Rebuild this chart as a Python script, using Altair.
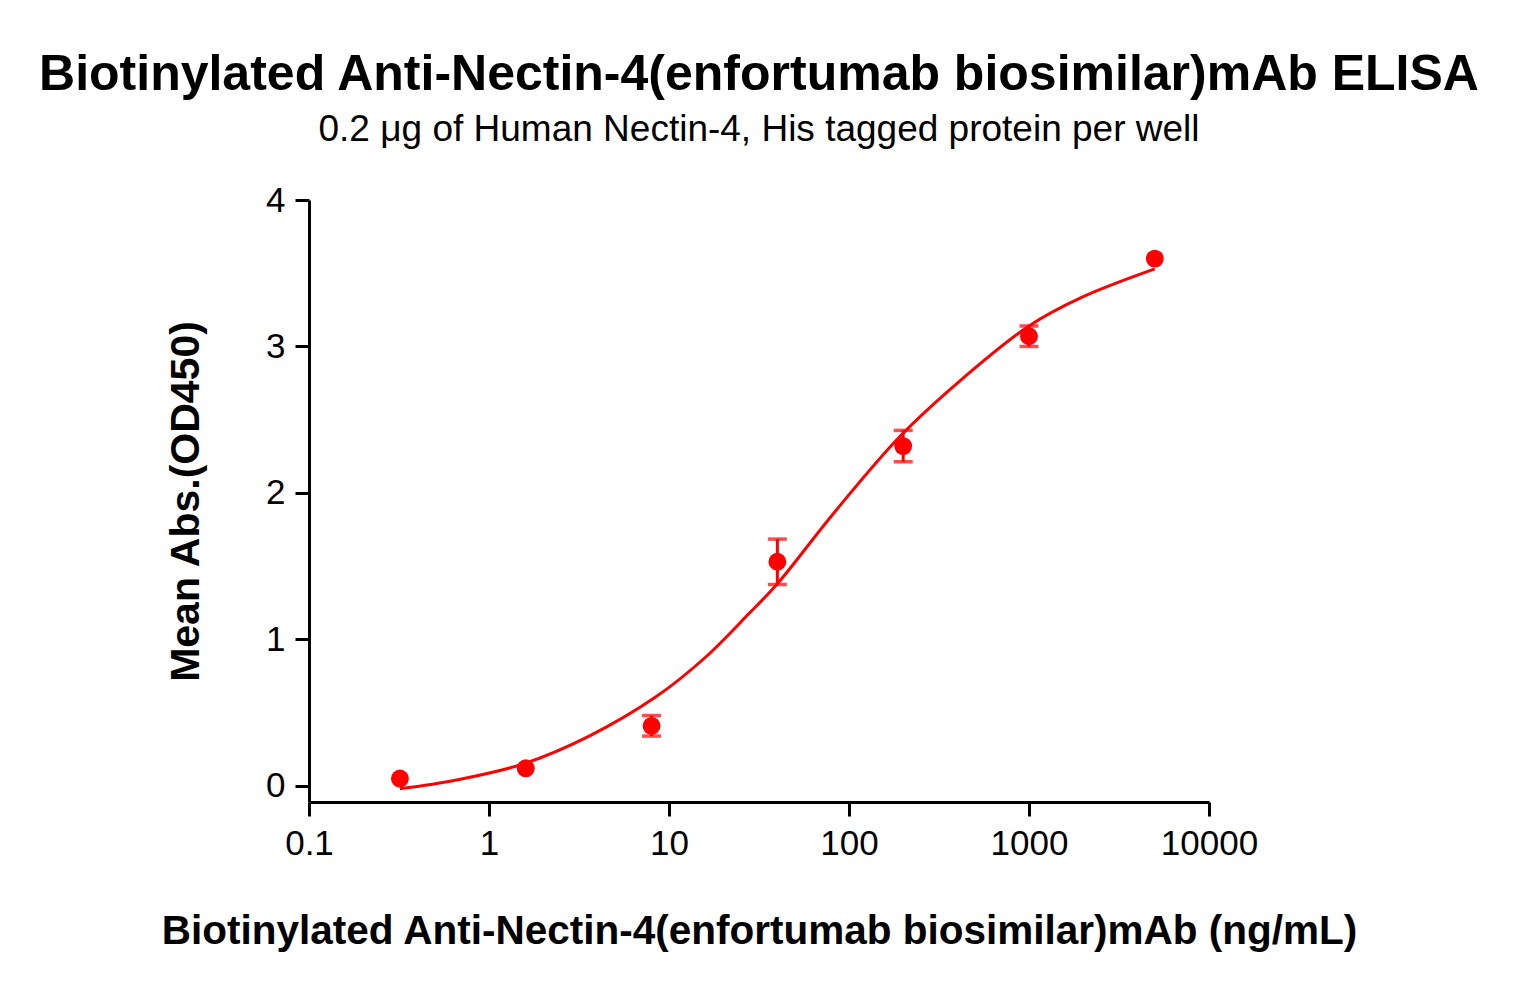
import altair as alt
import pandas as pd

# Measured data (concentration in ng/mL, mean OD450, error)
conc = [0.32, 1.6, 8, 40, 200, 1000, 5000]
mean_abs = [0.05, 0.12, 0.41, 1.53, 2.32, 3.07, 3.60]
err = [0.0, 0.0, 0.07, 0.155, 0.107, 0.07, 0.0]

# Fitted curve
curve_conc = [0.32, 0.66, 1.55, 3.6, 8.5, 16, 28, 40, 82, 190, 400, 1000, 2000, 5000]
curve_val = [-0.02, 0.04, 0.15, 0.34, 0.61, 0.88, 1.18, 1.38, 1.86, 2.38, 2.75, 3.14, 3.34, 3.53]

x_ticks = [0.1, 1, 10, 100, 1000, 10000]
y_ticks = [0, 1, 2, 3, 4]

RED = "#FF0000"
FONT = "Liberation Sans"

pts = pd.DataFrame({"conc": conc, "mean": mean_abs, "err": err})
pts["lo"] = pts["mean"] - pts["err"]
pts["hi"] = pts["mean"] + pts["err"]
bars = pts[pts["err"] > 0]
curve = pd.DataFrame({"conc": curve_conc, "val": curve_val})

xscale = alt.Scale(type="log", domain=[0.1, 10000], nice=False)
yscale = alt.Scale(domain=[-0.11, 4], nice=False, zero=False)

xaxis = alt.Axis(
    title="Biotinylated Anti-Nectin-4(enfortumab biosimilar)mAb (ng/mL)",
    values=x_ticks, format="~g", grid=False,
    domainColor="black", domainWidth=3, tickColor="black", tickWidth=3, tickSize=14,
    labelFont=FONT, labelFontSize=35, labelColor="black", labelPadding=10,
    labelFlush=False, labelOverlap=False, labelBound=False,
    titleFont=FONT, titleFontSize=40.5, titleFontWeight="bold", titleColor="black",
    titlePadding=50,
)
yaxis = alt.Axis(
    title="Mean Abs.(OD450)",
    values=y_ticks, format="d", grid=False,
    domainColor="black", domainWidth=3, tickColor="black", tickWidth=3, tickSize=14,
    labelFont=FONT, labelFontSize=35, labelColor="black", labelPadding=10,
    labelFlush=False, labelOverlap=False, labelBound=False,
    titleFont=FONT, titleFontSize=41, titleFontWeight="bold", titleColor="black",
    titlePadding=58,
)

line = alt.Chart(curve).mark_line(color=RED, strokeWidth=3, interpolate="catmull-rom").encode(
    x=alt.X("conc:Q", scale=xscale, axis=xaxis),
    y=alt.Y("val:Q", scale=yscale, axis=yaxis),
)

rules = alt.Chart(bars).mark_rule(color=RED, strokeWidth=3).encode(
    x=alt.X("conc:Q", scale=xscale),
    y=alt.Y("lo:Q", scale=yscale),
    y2="hi:Q",
)
caps_hi = alt.Chart(bars).mark_tick(color=RED, orient="horizontal", size=19, thickness=3.5).encode(
    x=alt.X("conc:Q", scale=xscale),
    y=alt.Y("hi:Q", scale=yscale),
)
caps_lo = alt.Chart(bars).mark_tick(color=RED, orient="horizontal", size=19, thickness=3.5).encode(
    x=alt.X("conc:Q", scale=xscale),
    y=alt.Y("lo:Q", scale=yscale),
)
dots = alt.Chart(pts).mark_circle(color=RED, size=320, opacity=1).encode(
    x=alt.X("conc:Q", scale=xscale),
    y=alt.Y("mean:Q", scale=yscale),
)

chart = alt.layer(line, rules, caps_hi, caps_lo, dots).properties(
    width=900,
    height=602,
    background="white",
    autosize=alt.AutoSizeParams(type="none"),
    padding={"left": 309, "top": 200, "right": 308, "bottom": 193},
    title=alt.TitleParams(
        text="Biotinylated Anti-Nectin-4(enfortumab biosimilar)mAb ELISA",
        subtitle="0.2 μg of Human Nectin-4, His tagged protein per well",
        font=FONT, fontSize=50, fontWeight="bold", color="black",
        subtitleFont=FONT, subtitleFontSize=37, subtitleColor="black",
        subtitlePadding=12, offset=35, anchor="middle",
    ),
).configure_view(strokeWidth=0)

chart.save("out.html", embed_options={"renderer": "svg", "actions": False})
